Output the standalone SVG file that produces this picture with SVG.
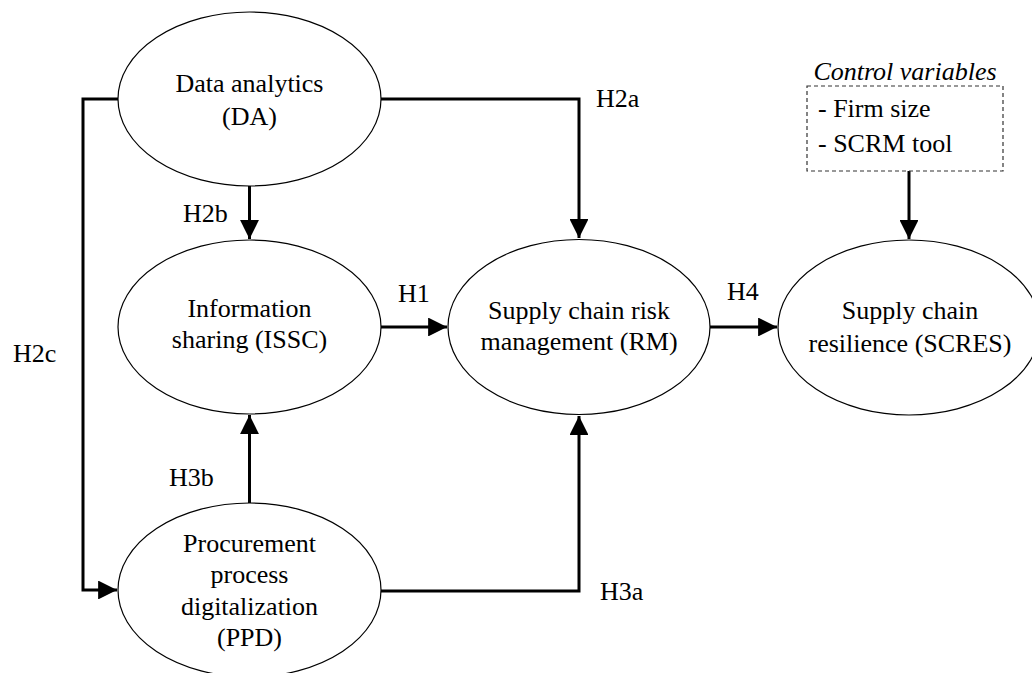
<svg xmlns="http://www.w3.org/2000/svg" width="1032" height="673" viewBox="0 0 1032 673">
<defs>
<style>
.n{fill:#fff;stroke:#000;stroke-width:1.2}
.t{font-family:"Liberation Serif","Times New Roman",serif;font-size:26px;fill:#000;text-anchor:middle}
.l{font-family:"Liberation Serif","Times New Roman",serif;font-size:26px;fill:#000}
.c{fill:none;stroke:#000;stroke-width:3}
</style>
<marker id="ah" viewBox="0 0 10 10" refX="10" refY="5" markerWidth="6.3" markerHeight="6.3" markerUnits="strokeWidth" orient="auto">
<path d="M0,0 L10,5 L0,10 z" fill="#000"/>
</marker>
</defs>
<rect width="1032" height="673" fill="#fff"/>
<g id="connectors">
<polyline class="c" points="118,99 83,99 83,590 117,590" marker-end="url(#ah)"/>
<polyline class="c" points="381,99 579,99 579,238" marker-end="url(#ah)"/>
<line class="c" x1="249.5" y1="186" x2="249.5" y2="239" marker-end="url(#ah)"/>
<line class="c" x1="381" y1="327" x2="447" y2="327" marker-end="url(#ah)"/>
<line class="c" x1="249.5" y1="503" x2="249.5" y2="415" marker-end="url(#ah)"/>
<polyline class="c" points="381,591 579,591 579,416" marker-end="url(#ah)"/>
<line class="c" x1="710" y1="327" x2="777" y2="327" marker-end="url(#ah)"/>
<line class="c" x1="909" y1="171" x2="909" y2="239" marker-end="url(#ah)"/>
</g>
<g id="labels">
<text class="l" x="596" y="107">H2a</text>
<text class="l" x="183" y="222">H2b</text>
<text class="l" x="13" y="362">H2c</text>
<text class="l" x="398" y="302">H1</text>
<text class="l" x="727" y="300">H4</text>
<text class="l" x="169" y="486">H3b</text>
<text class="l" x="600" y="600">H3a</text>
</g>
<g id="DA">
<ellipse class="n" cx="249.5" cy="99" rx="131.5" ry="87"/>
<text class="t" x="249.5" y="92">Data analytics</text>
<text class="t" x="249.5" y="125">(DA)</text>
</g>
<g id="ISSC">
<ellipse class="n" cx="249.5" cy="327" rx="131.5" ry="87"/>
<text class="t" x="249.5" y="317">Information</text>
<text class="t" x="249.5" y="348">sharing (ISSC)</text>
</g>
<g id="PPD">
<ellipse class="n" cx="249.5" cy="590" rx="131.5" ry="87"/>
<text class="t" x="249.5" y="552">Procurement</text>
<text class="t" x="249.5" y="583">process</text>
<text class="t" x="249.5" y="615">digitalization</text>
<text class="t" x="249.5" y="646">(PPD)</text>
</g>
<g id="RM">
<ellipse class="n" cx="579" cy="327" rx="131" ry="87.5"/>
<text class="t" x="579" y="319">Supply chain risk</text>
<text class="t" x="579" y="350">management (RM)</text>
</g>
<g id="SCRES">
<ellipse class="n" cx="909" cy="327.5" rx="131" ry="87.5"/>
<text class="t" x="910" y="319">Supply chain</text>
<text class="t" x="910" y="352">resilience (SCRES)</text>
</g>
<g id="controls">
<text class="t" x="905" y="80" font-style="italic">Control variables</text>
<rect x="807" y="86" width="196" height="85" fill="#fff" stroke="#333" stroke-width="1.2" stroke-dasharray="4,3"/>
<text class="l" x="818" y="117">- Firm size</text>
<text class="l" x="818" y="152">- SCRM tool</text>
</g>
</svg>
